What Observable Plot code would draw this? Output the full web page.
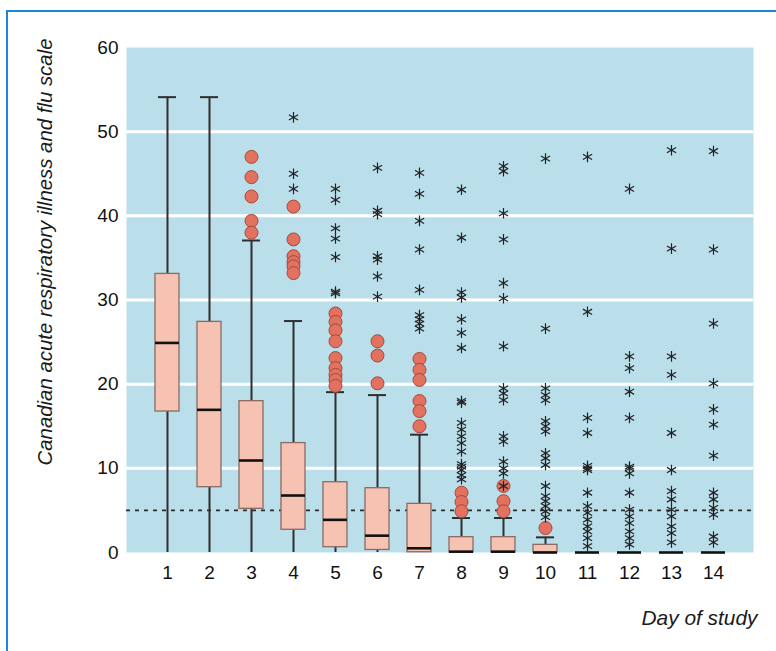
<!DOCTYPE html>
<html><head><meta charset="utf-8">
<script src="https://cdn.jsdelivr.net/npm/d3@7"></script>
<script src="https://cdn.jsdelivr.net/npm/@observablehq/plot@0.6"></script>
<style>
body{margin:0;background:#fff;}
#wrap{position:relative;width:776px;height:651px;overflow:hidden;}
#border{position:absolute;left:6px;top:10px;width:800px;height:700px;border-left:2px solid #1b86dc;border-top:2px solid #1b86dc;}
#chart{position:absolute;left:0;top:0;}
</style></head><body>
<div id="wrap"><div id="border"></div><div id="chart"></div></div>
<script>
const days = [1,2,3,4,5,6,7,8,9,10,11,12,13,14];
const whiskerLow  = [0,0,0,0,0,0,0,0,0,0,0,0,0,0];
const q1          = [16.75,7.76,5.19,2.7,0.63,0.3,0.03,0,0,0,0,0,0,0];
const median      = [24.9,16.95,10.93,6.77,3.88,2.0,0.5,0.1,0.1,0,0,0,0,0];
const q3          = [33.1,27.4,17.98,13.0,8.35,7.64,5.78,1.82,1.82,0.91,0,0,0,0];
const whiskerHigh = [54.1,54.1,37.07,27.5,19.05,18.7,14.0,4.1,4.1,1.8,0,0,0,0];
const circleOutliers = [
  [], [],
  [47.0,44.6,42.3,39.4,38.0],
  [41.1,37.2,35.2,34.5,34.0,33.2],
  [28.4,27.4,26.4,25.1,23.1,21.9,21.1,20.5,19.8],
  [25.1,23.4,20.1],
  [23.0,21.7,20.5,18.0,16.8,15.0],
  [7.1,6.0,4.9],
  [7.9,6.1,4.9],
  [2.9],
  [], [], [], []
];
const starOutliers = [
  [], [], [],
  [51.7,45.0,43.2],
  [43.2,41.9,38.5,37.3,35.1,31.0,30.8],
  [45.7,40.6,40.2,35.2,34.8,32.8,30.4],
  [45.1,42.6,39.4,36.0,31.2,28.2,27.7,27.2,26.6],
  [43.1,37.4,30.9,30.3,27.7,26.1,24.3,18.0,17.8,15.4,14.6,13.8,13.0,12.0,10.5,10.2,9.8,9.2,8.7],
  [45.9,45.3,40.3,37.2,32.0,30.2,24.5,19.5,18.9,18.1,13.8,13.2,10.8,10.0,9.4,7.9],
  [46.8,26.6,19.5,18.7,18.1,15.6,15.0,14.4,11.8,11.2,10.4,7.9,6.7,6.1,5.5,4.9,4.2],
  [47.0,28.6,16.0,14.2,10.3,10.0,9.8,7.1,5.5,4.7,3.9,3.1,2.5,1.7,0.75],
  [43.2,23.3,21.9,19.1,16.0,10.2,10.0,9.4,7.1,5.1,4.3,3.5,2.5,1.7,0.95],
  [47.8,36.1,23.3,21.1,14.2,9.8,7.3,6.3,5.1,4.3,3.1,2.3,1.2],
  [47.7,36.0,27.2,20.1,17.0,15.2,11.5,7.1,6.3,5.3,4.5,1.9,1.2]
];
const yTicks = [0,10,20,30,40,50,60];
const gridValues = [10,20,30,40,50];
const referenceLine = [5];
const yTitle = "Canadian acute respiratory illness and flu scale";
const xTitle = "Day of study";

const boxes = days.map((d,i)=>({day:d, low:whiskerLow[i], q1:q1[i], median:median[i], q3:q3[i], high:whiskerHigh[i]}));
const circlePts = days.flatMap((d,i)=>circleOutliers[i].map(v=>({day:d, value:v})));
const starPts = days.flatMap((d,i)=>starOutliers[i].map(v=>({day:d, value:v})));
const whiskered = boxes.filter(b=>b.high>b.q3);

const chart = Plot.plot({
  width:776, height:651, marginLeft:126, marginRight:23, marginTop:47, marginBottom:99,
  style:{fontFamily:"'Liberation Sans', Arial, sans-serif", fontSize:"19px", color:"#111", background:"transparent", overflow:"visible"},
  x:{type:"band", domain:days, paddingInner:0.44, paddingOuter:0.54, align:0.5, label:null},
  y:{domain:[0,60], label:null},
  marks:[
    Plot.frame({fill:"#badfeb", stroke:null}),
    Plot.ruleY(gridValues, {stroke:"#ffffff", strokeWidth:3}),
    Plot.ruleY(referenceLine, {stroke:"#2b2b2b", strokeWidth:1.8, strokeDasharray:"4,5"}),
    Plot.ruleX(boxes, {x:"day", y1:"low", y2:"high", stroke:"#2e2e2e", strokeWidth:2}),
    Plot.tickY(whiskered, {x:"day", y:"high", stroke:"#2e2e2e", strokeWidth:2, insetLeft:3, insetRight:3}),
    Plot.barY(boxes, {x:"day", y1:"q1", y2:"q3", fill:"#f6c2b2", stroke:"#8a6a63", strokeWidth:1.3}),
    Plot.tickY(boxes, {x:"day", y:"median", stroke:"#111", strokeWidth:2.6}),
    Plot.dot(circlePts, {x:"day", y:"value", r:6.5, fill:"#e2725f", stroke:"#a5493b", strokeWidth:1}),
    Plot.dot(starPts, {x:"day", y:"value", symbol:"asterisk", r:5, stroke:"#222", strokeWidth:1.2}),
    Plot.axisX({ticks:days, tickSize:0, tickPadding:13, fontSize:19, label:null}),
    Plot.axisY({ticks:yTicks, tickSize:0, tickPadding:8, fontSize:19, label:null}),
    Plot.text([yTitle], {text:d=>d, frameAnchor:"top-left", rotate:-90, textAnchor:"end", dx:-89, dy:-9, fontStyle:"italic", fontSize:21, fill:"#1a1a1a", className:"ytitle"}),
    Plot.text([xTitle], {text:d=>d, frameAnchor:"bottom-right", textAnchor:"end", dx:4, dy:72, fontStyle:"italic", fontSize:21, fill:"#1a1a1a", className:"xtitle"})
  ]
});
document.getElementById("chart").appendChild(chart);
// condense the titles to their measured lengths
chart.querySelectorAll(".ytitle text").forEach(t=>{t.setAttribute("textLength","427");t.setAttribute("lengthAdjust","spacingAndGlyphs");});
chart.querySelectorAll(".xtitle text").forEach(t=>{t.setAttribute("textLength","116");t.setAttribute("lengthAdjust","spacingAndGlyphs");});
</script>
</body></html>
